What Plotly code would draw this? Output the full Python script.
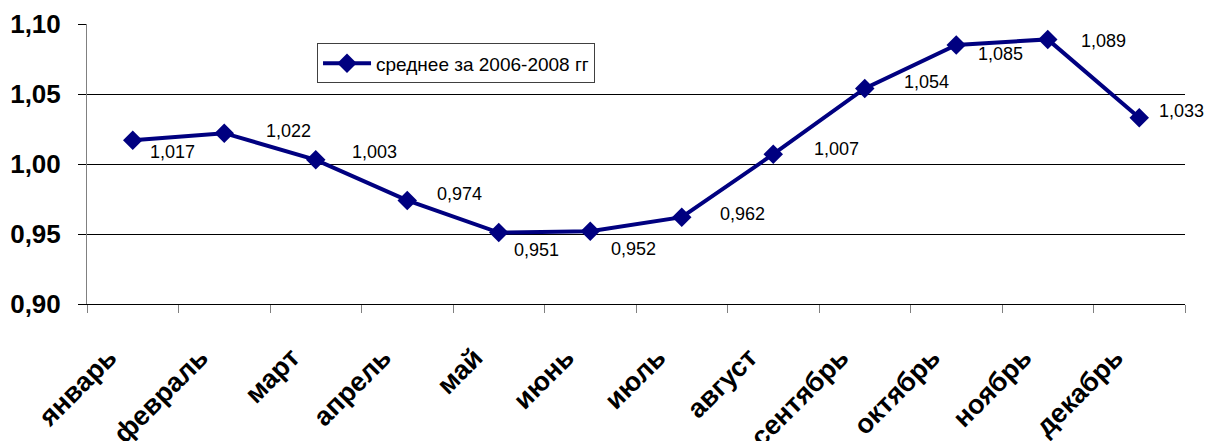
import plotly.graph_objects as go

# Monthly coefficients, average over 2006-2008
months = ["январь", "февраль", "март", "апрель", "май", "июнь",
          "июль", "август", "сентябрь", "октябрь", "ноябрь", "декабрь"]
values = [1.017, 1.022, 1.003, 0.974, 0.951, 0.952,
          0.962, 1.007, 1.054, 1.085, 1.089, 1.033]
series_name = "среднее за 2006-2008 гг"
y_ticks = [0.90, 0.95, 1.00, 1.05, 1.10]

# Pixel offsets of each value label relative to its marker
label_dx = [40, 64, 59, 52, 38, 43, 61, 63, 62, 44, 56, 42]
label_dy = [-12, 2, 8, 6, -17, -18, 3, 5, 6, -9, -2, 7]

NAVY = "#000080"
FONT = "Liberation Sans, Arial, sans-serif"

fig = go.Figure()
fig.add_trace(go.Scatter(
    x=months, y=values, mode="lines+markers", name=series_name,
    line=dict(color=NAVY, width=4),
    marker=dict(symbol="diamond", size=15, color=NAVY),
))

for m, v, dx, dy in zip(months, values, label_dx, label_dy):
    fig.add_annotation(
        x=m, y=v, text=f"{v:.3f}".replace(".", ","),
        showarrow=False, xshift=dx, yshift=dy,
        xanchor="center", yanchor="middle",
        font=dict(family=FONT, size=18, color="black"),
    )

fig.update_layout(
    width=1205, height=441,
    margin=dict(l=87, r=20, t=24, b=137, autoexpand=False),
    paper_bgcolor="white", plot_bgcolor="white",
    separators=", ",
    font=dict(family=FONT, color="black"),
    showlegend=True,
    legend=dict(
        x=0.2095, y=0.9306, xanchor="left", yanchor="top",
        bgcolor="white", bordercolor="#404040", borderwidth=1,
        itemwidth=48,
        font=dict(family=FONT, size=19, color="black"),
    ),
)

fig.update_xaxes(
    type="category", categoryorder="array", categoryarray=months,
    range=[-0.5, len(months) - 0.5], automargin=False,
    showgrid=False, showline=True, linecolor="black", linewidth=1,
    ticks="outside", tickson="boundaries", ticklen=8, tickcolor="#808080",
    tickangle=-45, ticklabelstandoff=26, ticklabelshift=-24,
    tickfont=dict(family=FONT, size=27, color="black", weight="bold"),
)

fig.update_yaxes(
    range=[0.90, 1.10], tickvals=y_ticks, tickformat=".2f", automargin=False,
    showgrid=True, gridcolor="black", gridwidth=1, zeroline=False,
    showline=True, linecolor="#808080", linewidth=1,
    ticks="outside", ticklen=8, tickcolor="black", ticklabelstandoff=12,
    tickfont=dict(family=FONT, size=26, color="black", weight="bold"),
)

fig.write_html("out.html")
